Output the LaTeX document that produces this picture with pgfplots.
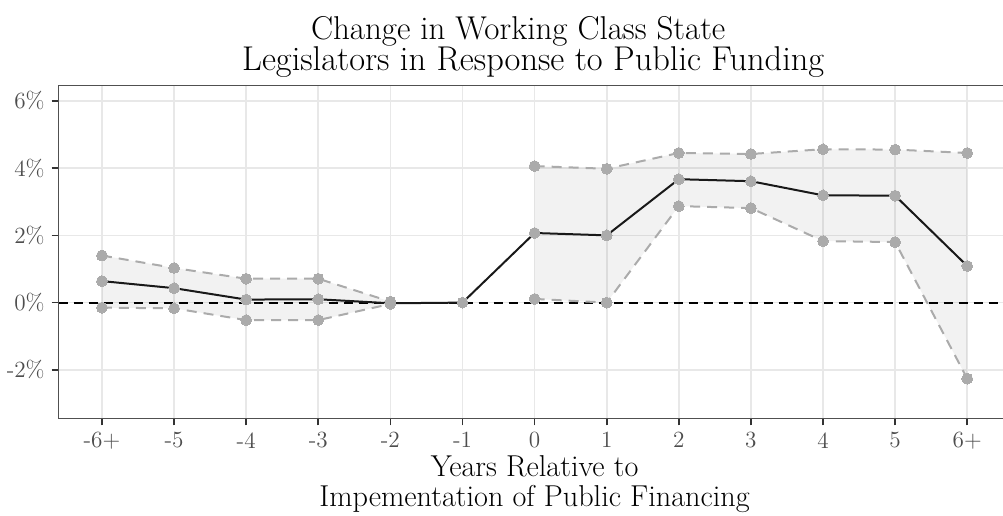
\documentclass[border=0pt]{standalone}
\usepackage{pgfplots}
\pgfplotsset{compat=1.18}
\definecolor{gridc}{HTML}{E8E8E8}
\definecolor{axc}{HTML}{505050}
\definecolor{tickc}{HTML}{333333}
\definecolor{labc}{HTML}{4D4D4D}
\definecolor{dotc}{HTML}{ABABAB}
\begin{document}
\begin{tikzpicture}
\begin{axis}[
  scale only axis,
  width=475.9pt, height=166.3pt,
  xmin=-0.6, xmax=12.6, ymin=-3.44, ymax=6.45,
  xtick={0,1,2,3,4,5,6,7,8,9,10,11,12},
  xticklabels={-6+,-5,-4,-3,-2,-1,0,1,2,3,4,5,6+},
  ytick={-2,0,2,4,6},
  yticklabels={-2\%,0\%,2\%,4\%,6\%},
  xtick pos=bottom, ytick pos=left,
  grid=major,
  major grid style={color=gridc, line width=0.8pt},
  tick align=outside, major tick length=3.5pt,
  tick style={color=tickc, line width=0.8pt},
  axis line style={color=axc, line width=0.6pt},
  ticklabel style={font=\fontsize{11.6}{13}\selectfont, text=labc},
  clip=false,
]
% ribbons
\addplot[draw=none, fill=black, fill opacity=0.05] coordinates {
 (0,1.40) (1,1.03) (2,0.71) (3,0.71) (4,0.03)
 (4,-0.04) (3,-0.52) (2,-0.52) (1,-0.17) (0,-0.15)} -- cycle;
\addplot[draw=none, fill=black, fill opacity=0.05] coordinates {
 (6,4.06) (7,3.98) (8,4.45) (9,4.42) (10,4.56) (11,4.55) (12,4.45)
 (12,-2.26) (11,1.80) (10,1.83) (9,2.81) (8,2.87) (7,0.00) (6,0.11)} -- cycle;
% zero line
\addplot[black, line width=1pt, dash pattern=on 4.5pt off 3pt] coordinates {(-0.6,0) (12.6,0)};
% CI lines
\addplot[dotc, line width=1pt, dash pattern=on 5pt off 3.5pt] coordinates {
 (0,1.40) (1,1.03) (2,0.71) (3,0.71) (4,0.03)};
\addplot[dotc, line width=1pt, dash pattern=on 5pt off 3.5pt] coordinates {
 (0,-0.15) (1,-0.17) (2,-0.52) (3,-0.52) (4,-0.04)};
\addplot[dotc, line width=1pt, dash pattern=on 5pt off 3.5pt] coordinates {
 (6,4.06) (7,3.98) (8,4.45) (9,4.42) (10,4.56) (11,4.55) (12,4.45)};
\addplot[dotc, line width=1pt, dash pattern=on 5pt off 3.5pt] coordinates {
 (6,0.11) (7,0.00) (8,2.87) (9,2.81) (10,1.83) (11,1.80) (12,-2.26)};
% estimate line
\addplot[color=black!90, line width=1pt] coordinates {
 (0,0.64) (1,0.43) (2,0.09) (3,0.10) (4,-0.02) (5,0) (6,2.07) (7,2.00)
 (8,3.67) (9,3.61) (10,3.19) (11,3.18) (12,1.09)};
% points
\addplot[only marks, color=dotc, mark=*, mark size=2.7pt, mark options={draw=dotc, fill=dotc, line width=0pt}] coordinates {
 (0,1.40) (1,1.03) (2,0.71) (3,0.71) (4,0.03)
 (0,-0.15) (1,-0.17) (2,-0.52) (3,-0.52) (4,-0.04)
 (6,4.06) (7,3.98) (8,4.45) (9,4.42) (10,4.56) (11,4.55) (12,4.45)
 (6,0.11) (7,0.00) (8,2.87) (9,2.81) (10,1.83) (11,1.80) (12,-2.26)
 (0,0.64) (1,0.43) (2,0.09) (3,0.10) (4,-0.02) (5,0) (6,2.07) (7,2.00)
 (8,3.67) (9,3.61) (10,3.19) (11,3.18) (12,1.09)};
\coordinate (SW) at (rel axis cs:0,0);
\node[anchor=base, font=\fontsize{16.5}{19}\selectfont] at ([xshift=-8.2pt, yshift=23.2pt]rel axis cs:0.5,1) {Change in Working Class State};
\node[anchor=base, font=\fontsize{17.2}{19}\selectfont] at ([xshift=-0.7pt, yshift=7.7pt]rel axis cs:0.5,1) {Legislators in Response to Public Funding};
\node[anchor=base, font=\fontsize{15.1}{17}\selectfont] at ([yshift=-29.1pt]rel axis cs:0.5,0) {Years Relative to};
\node[anchor=base, font=\fontsize{15.1}{17}\selectfont] at ([yshift=-43.85pt]rel axis cs:0.5,0) {Impementation of Public Financing};
\end{axis}
\pgfresetboundingbox
\path[use as bounding box] ([xshift=-29.35pt, yshift=-48.35pt]SW) rectangle ([xshift=472.15pt, yshift=209.15pt]SW);
\end{tikzpicture}
\end{document}
